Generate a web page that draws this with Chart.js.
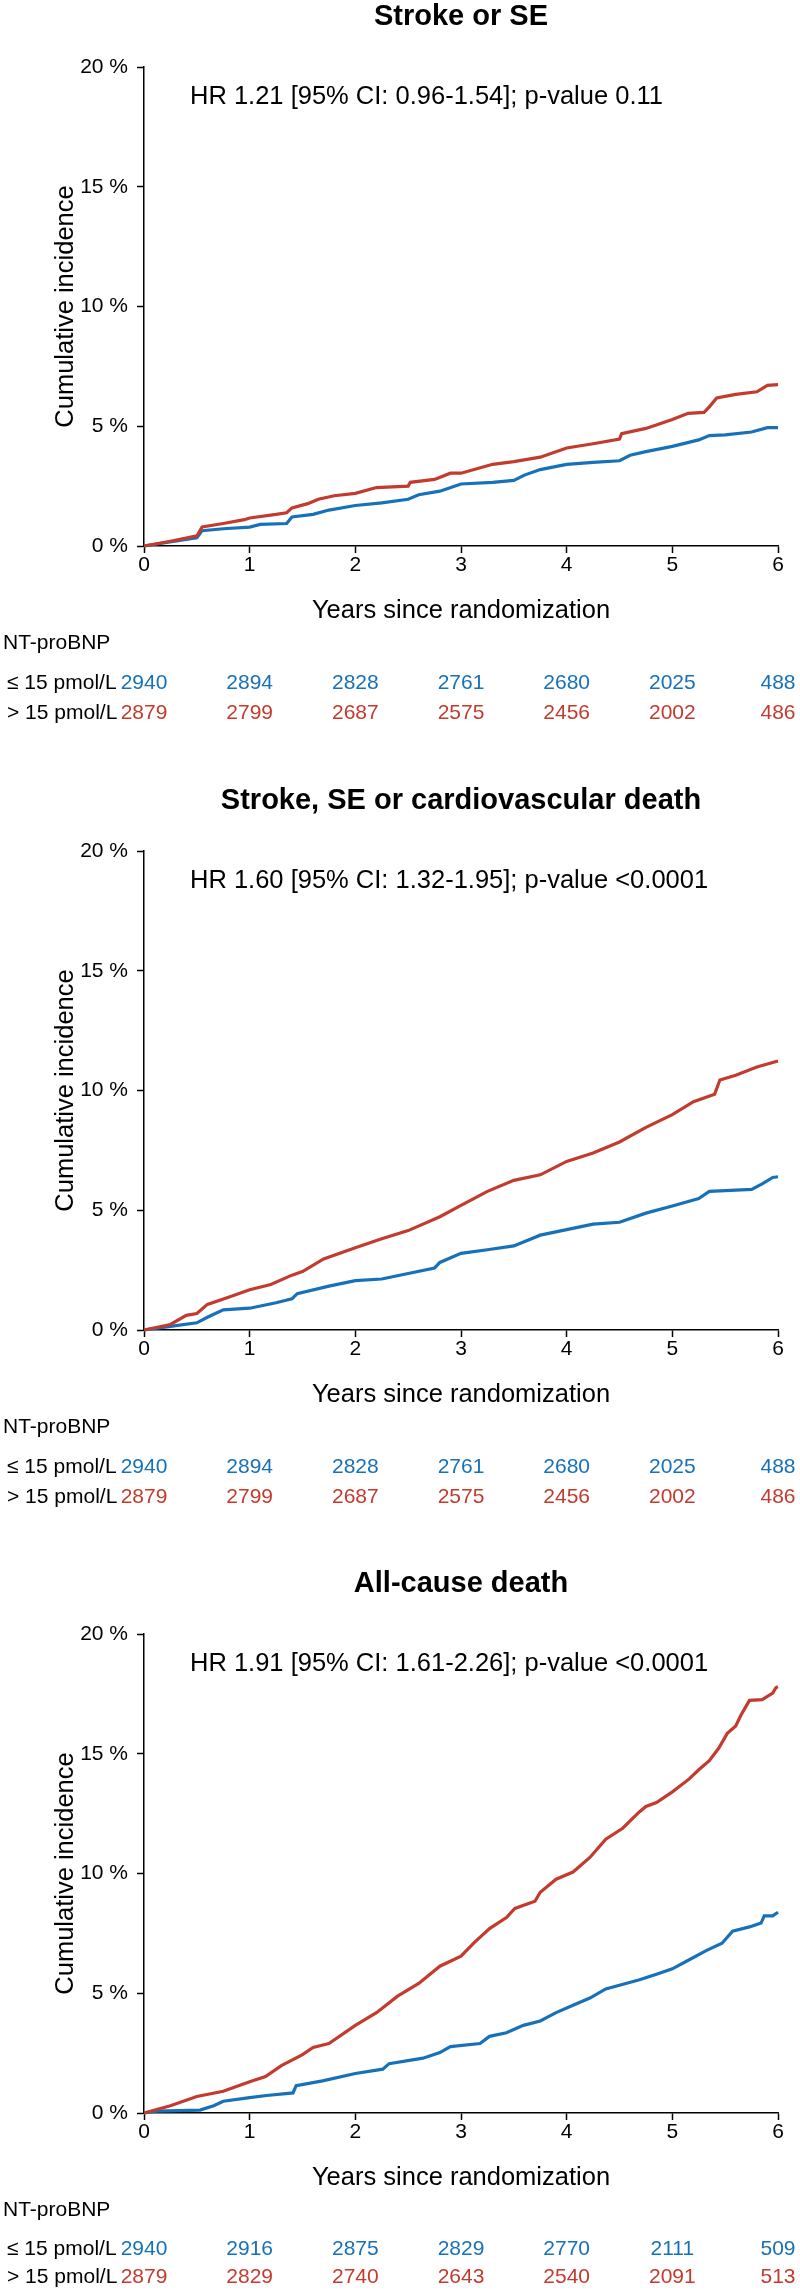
<!DOCTYPE html>
<html lang="en">
<head>
  <meta charset="UTF-8">
  <title>Cumulative incidence by NT-proBNP</title>
  <script src="https://cdn.jsdelivr.net/npm/chart.js"></script>
  <style>
    html, body { margin: 0; padding: 0; background: #fff; }
    #wrap { position: relative; width: 800px; height: 2296px; overflow: hidden; }
    .panel { position: absolute; left: 0; width: 800px; height: 760px; }
  </style>
</head>
<body>
  <div id="wrap">
    <div class="panel" style="top:0px"><canvas id="c1"></canvas></div>
    <div class="panel" style="top:784px"><canvas id="c2"></canvas></div>
    <div class="panel" style="top:1567px"><canvas id="c3"></canvas></div>
  </div>

  <script>
    // axis ticks and group labels
    const yearTicks = [0, 1, 2, 3, 4, 5, 6];
    const pctTicks = [0, 5, 10, 15, 20];
    const groupLabels = ['≤ 15 pmol/L', '> 15 pmol/L'];

    // Stroke or SE (years, cumulative %)
    const strokeHighT = [0, 0.25, 0.5, 0.55, 0.75, 0.95, 1.0, 1.25, 1.35, 1.4, 1.55, 1.65, 1.8, 2.0, 2.2, 2.5, 2.52, 2.75, 2.9, 3.0, 3.3, 3.5, 3.75, 4.0, 4.25, 4.5, 4.52, 4.75, 5.0, 5.15, 5.3, 5.35, 5.42, 5.6, 5.8, 5.9, 6.0];
    const strokeHighY = [0, 0.2, 0.42, 0.8, 0.94, 1.1, 1.17, 1.32, 1.39, 1.59, 1.77, 1.95, 2.1, 2.2, 2.44, 2.5, 2.66, 2.78, 3.04, 3.04, 3.41, 3.52, 3.71, 4.09, 4.27, 4.46, 4.69, 4.91, 5.28, 5.54, 5.58, 5.81, 6.18, 6.33, 6.44, 6.71, 6.74];
    const strokeLowT = [0, 0.5, 0.55, 0.75, 1.0, 1.1, 1.35, 1.4, 1.6, 1.75, 2.0, 2.25, 2.5, 2.6, 2.8, 3.0, 3.3, 3.5, 3.6, 3.75, 4.0, 4.25, 4.5, 4.6, 4.75, 5.0, 5.25, 5.35, 5.5, 5.75, 5.9, 6.0];
    const strokeLowY = [0, 0.34, 0.64, 0.72, 0.79, 0.9, 0.94, 1.21, 1.32, 1.5, 1.69, 1.8, 1.95, 2.14, 2.29, 2.59, 2.66, 2.74, 2.96, 3.19, 3.41, 3.49, 3.56, 3.79, 3.94, 4.16, 4.43, 4.61, 4.64, 4.76, 4.94, 4.94];
    const strokeLowRisk = [2940, 2894, 2828, 2761, 2680, 2025, 488];
    const strokeHighRisk = [2879, 2799, 2687, 2575, 2456, 2002, 486];

    // Stroke, SE or cardiovascular death
    const scvdHighT = [0, 0.25, 0.4, 0.5, 0.6, 0.8, 1.0, 1.2, 1.4, 1.5, 1.7, 2.0, 2.25, 2.5, 2.8, 3.0, 3.25, 3.5, 3.75, 4.0, 4.25, 4.5, 4.75, 5.0, 5.2, 5.4, 5.45, 5.6, 5.8, 6.0];
    const scvdHighY = [0, 0.23, 0.61, 0.69, 1.07, 1.37, 1.68, 1.9, 2.29, 2.44, 2.97, 3.43, 3.81, 4.15, 4.73, 5.2, 5.79, 6.25, 6.48, 7.04, 7.39, 7.85, 8.46, 8.99, 9.53, 9.84, 10.44, 10.64, 10.98, 11.23];
    const scvdLowT = [0, 0.25, 0.5, 0.6, 0.75, 1.0, 1.25, 1.4, 1.45, 1.75, 2.0, 2.25, 2.5, 2.75, 2.8, 3.0, 3.25, 3.5, 3.75, 4.0, 4.25, 4.5, 4.75, 5.0, 5.25, 5.35, 5.5, 5.75, 5.85, 5.95, 6.0];
    const scvdLowY = [0, 0.15, 0.3, 0.53, 0.84, 0.91, 1.14, 1.3, 1.52, 1.83, 2.06, 2.13, 2.36, 2.59, 2.82, 3.2, 3.35, 3.51, 3.96, 4.19, 4.42, 4.5, 4.88, 5.18, 5.49, 5.79, 5.82, 5.87, 6.1, 6.37, 6.4];
    const scvdLowRisk = [2940, 2894, 2828, 2761, 2680, 2025, 488];
    const scvdHighRisk = [2879, 2799, 2687, 2575, 2456, 2002, 486];

    // All-cause death
    const deathHighT = [0, 0.25, 0.5, 0.75, 1.0, 1.15, 1.3, 1.5, 1.6, 1.75, 2.0, 2.2, 2.4, 2.6, 2.8, 3.0, 3.12, 3.27, 3.43, 3.51, 3.7, 3.75, 3.9, 4.06, 4.22, 4.37, 4.53, 4.69, 4.75, 4.85, 5.0, 5.16, 5.25, 5.35, 5.44, 5.52, 5.6, 5.65, 5.73, 5.85, 5.95, 5.98, 6.0];
    const deathHighY = [0, 0.3, 0.69, 0.91, 1.3, 1.52, 1.98, 2.44, 2.74, 2.9, 3.66, 4.19, 4.88, 5.41, 6.13, 6.55, 7.09, 7.7, 8.16, 8.54, 8.84, 9.22, 9.76, 10.06, 10.67, 11.43, 11.89, 12.58, 12.8, 12.96, 13.41, 13.95, 14.33, 14.71, 15.24, 15.85, 16.16, 16.62, 17.23, 17.26, 17.53, 17.76, 17.8];
    const deathLowT = [0, 0.12, 0.53, 0.66, 0.75, 1.0, 1.16, 1.41, 1.44, 1.69, 2.0, 2.26, 2.32, 2.64, 2.8, 2.9, 3.18, 3.27, 3.43, 3.59, 3.75, 3.9, 4.06, 4.22, 4.37, 4.56, 4.69, 4.85, 5.0, 5.16, 5.32, 5.47, 5.57, 5.73, 5.84, 5.87, 5.95, 6.0];
    const deathLowY = [0, 0.08, 0.12, 0.3, 0.49, 0.64, 0.73, 0.84, 1.14, 1.34, 1.65, 1.83, 2.06, 2.29, 2.52, 2.77, 2.9, 3.2, 3.35, 3.66, 3.84, 4.19, 4.5, 4.8, 5.18, 5.41, 5.56, 5.79, 6.02, 6.4, 6.78, 7.09, 7.59, 7.77, 7.93, 8.23, 8.23, 8.38];
    const deathLowRisk = [2940, 2916, 2875, 2829, 2770, 2111, 509];
    const deathHighRisk = [2879, 2829, 2740, 2643, 2540, 2091, 513];

    const RED = '#c23b2e';
    const BLUE = '#1771b9';
    const FONT = "'Liberation Sans', Arial, Helvetica, sans-serif";
    Chart.defaults.font.family = FONT;
    Chart.defaults.color = '#000';

    const zip = (t, y) => t.map((v, i) => ({ x: v, y: y[i] }));

    // title, HR note and numbers-at-risk table
    const panelText = {
      id: 'panelText',
      afterDraw(chart, args, o) {
        const { ctx, chartArea, scales: { x } } = chart;
        ctx.save();
        ctx.fillStyle = '#000';
        ctx.textBaseline = 'middle';
        ctx.textAlign = 'center';
        ctx.font = 'bold 29px ' + FONT;
        ctx.fillText(o.title, (chartArea.left + chartArea.right) / 2, 17);

        ctx.textAlign = 'left';
        ctx.font = '25.5px ' + FONT;
        ctx.fillText(o.hr, 190, 97);

        ctx.font = '21px ' + FONT;
        ctx.fillText('NT-proBNP', 3, o.rowsY[0]);
        const rows = [[groupLabels[0], o.low, BLUE, o.rowsY[1]], [groupLabels[1], o.high, RED, o.rowsY[2]]];
        rows.forEach(([lab, vals, col, yy]) => {
          ctx.textAlign = 'left';
          ctx.fillStyle = '#000';
          ctx.fillText(lab, 7, yy);
          ctx.textAlign = 'center';
          ctx.fillStyle = col;
          vals.forEach((v, i) => ctx.fillText(String(v), x.getPixelForValue(yearTicks[i]), yy));
        });
        ctx.restore();
      }
    };

    function makePanel(id, title, hr, lowT, lowY, highT, highY, lowRisk, highRisk, rowsY) {
      const axisGrid = { display: true, drawOnChartArea: false, drawTicks: true, tickLength: 7, tickColor: '#000', tickWidth: 1.5 };
      const axisBorder = { display: true, color: '#000', width: 1.5 };
      new Chart(document.getElementById(id), {
        type: 'line',
        data: {
          datasets: [
            { label: groupLabels[1], data: zip(highT, highY), borderColor: RED, borderWidth: 3.2, pointRadius: 0, tension: 0, fill: false, clip: false },
            { label: groupLabels[0], data: zip(lowT, lowY), borderColor: BLUE, borderWidth: 3.2, pointRadius: 0, tension: 0, fill: false, clip: false }
          ]
        },
        options: {
          responsive: true,
          maintainAspectRatio: false,
          animation: false,
          devicePixelRatio: 1,
          layout: { padding: { top: 67, left: 0, right: 22, bottom: 134 } },
          plugins: {
            legend: { display: false },
            tooltip: { enabled: false },
            panelText: { title: title, hr: hr, low: lowRisk, high: highRisk, rowsY: rowsY }
          },
          scales: {
            x: {
              type: 'linear', min: 0, max: 6,
              afterBuildTicks: s => { s.ticks = yearTicks.map(v => ({ value: v })); },
              ticks: { font: { size: 21 }, color: '#000', padding: 0, maxRotation: 0 },
              grid: axisGrid,
              border: axisBorder,
              title: { display: true, text: 'Years since randomization', font: { size: 25.5 }, color: '#000', padding: { top: 17.5, bottom: 0 } },
              afterFit: s => { s.height = 80; }
            },
            y: {
              type: 'linear', min: 0, max: 20,
              afterBuildTicks: s => { s.ticks = pctTicks.map(v => ({ value: v })); },
              ticks: { font: { size: 21 }, color: '#000', padding: 9, callback: v => v + ' %' },
              grid: axisGrid,
              border: axisBorder,
              title: { display: true, text: 'Cumulative incidence', font: { size: 25.5 }, color: '#000', padding: { top: 50.7, bottom: 0 } },
              afterFit: s => { s.width = 144; }
            }
          }
        },
        plugins: [panelText]
      });
    }

    makePanel('c1', 'Stroke or SE', 'HR 1.21 [95% CI: 0.96-1.54]; p-value 0.11',
      strokeLowT, strokeLowY, strokeHighT, strokeHighY, strokeLowRisk, strokeHighRisk, [643, 683, 713]);
    makePanel('c2', 'Stroke, SE or cardiovascular death', 'HR 1.60 [95% CI: 1.32-1.95]; p-value <0.0001',
      scvdLowT, scvdLowY, scvdHighT, scvdHighY, scvdLowRisk, scvdHighRisk, [643, 683, 713]);
    makePanel('c3', 'All-cause death', 'HR 1.91 [95% CI: 1.61-2.26]; p-value <0.0001',
      deathLowT, deathLowY, deathHighT, deathHighY, deathLowRisk, deathHighRisk, [643, 682, 710]);
  </script>
</body>
</html>
